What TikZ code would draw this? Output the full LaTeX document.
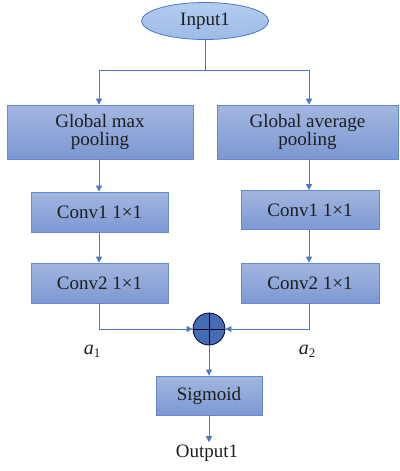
\documentclass[tikz,border=0pt]{standalone}
\usepackage{fontspec}
\setmainfont{Liberation Serif}
\usetikzlibrary{arrows.meta,shapes.geometric,calc}
\definecolor{lineblue}{HTML}{4A78C6}
\definecolor{boxtop}{HTML}{A3B6E0}
\definecolor{boxbot}{HTML}{7C98D3}
\definecolor{boxedge}{HTML}{6688CC}
\definecolor{elltop}{HTML}{B4CCEE}
\definecolor{ellbot}{HTML}{9DBBE8}
\definecolor{txt}{HTML}{1E1E1E}
\tikzset{
  blk/.style={rectangle, draw=boxedge, line width=0.8pt, top color=boxtop, bottom color=boxbot,
    text=txt, align=center, inner sep=0pt, font=\fontsize{19}{18}\selectfont},
  conn/.style={draw=lineblue, line width=0.9pt},
  arr/.style={conn, -{Triangle[width=6pt,length=6pt]}},
}
\begin{document}
\begin{tikzpicture}[x=1pt,y=-1pt]
\useasboundingbox (0,0) rectangle (399,471);
\node[ellipse, draw=lineblue, line width=0.8pt, top color=elltop, bottom color=ellbot,
  minimum width=127pt, minimum height=37pt, inner sep=0pt, text=txt,
  font=\fontsize{19}{18}\selectfont] (in) at (205,21) {Input1};
\node[blk, minimum width=186pt, minimum height=54pt] (gmp) at (100,132) {Global max\\pooling};
\node[blk, minimum width=181pt, minimum height=54pt] (gap) at (307.5,132) {Global average\\pooling};
\node[blk, minimum width=137pt, minimum height=40pt] (c1l) at (99.5,212) {Conv1 1\texttimes1};
\node[blk, minimum width=138pt, minimum height=39pt] (c1r) at (310,210) {Conv1 1\texttimes1};
\node[blk, minimum width=137pt, minimum height=40pt] (c2l) at (99.5,283) {Conv2 1\texttimes1};
\node[blk, minimum width=138pt, minimum height=40pt] (c2r) at (310,283) {Conv2 1\texttimes1};
\node[circle, draw=black!80!blue, line width=0.8pt, fill=lineblue!90!black, minimum size=32pt, inner sep=0pt] (sum) at (209,329) {};
\draw[black!85!blue, line width=0.8pt] (sum.north) -- (sum.south) (sum.west) -- (sum.east);
\node[blk, minimum width=106pt, minimum height=39pt] (sig) at (209,395.5) {Sigmoid};
\node[text=txt, font=\fontsize{19}{18}\selectfont, inner sep=0pt, anchor=base] (out) at (207,457) {Output1};
\node[text=txt, inner sep=0pt, anchor=base] (a1) at (92,354) {\fontsize{20}{20}\selectfont\textit{a}\raisebox{-0.35ex}{\fontsize{13}{13}\selectfont 1}};
\node[text=txt, inner sep=0pt, anchor=base] (a2) at (307,354) {\fontsize{20}{20}\selectfont\textit{a}\raisebox{-0.35ex}{\fontsize{13}{13}\selectfont 2}};
\coordinate (j) at (205,70);
\coordinate (jl) at (99,70);
\coordinate (jr) at (309,70);
\draw[conn] (in.south) -- (j);
\draw[conn] (jl) -- (jr);
\draw[arr] (jl) -- (jl |- gmp.north);
\draw[arr] (jr) -- (jr |- gap.north);
\draw[arr] (jl |- gmp.south) -- (jl |- c1l.north);
\draw[arr] (jr |- gap.south) -- (jr |- c1r.north);
\draw[arr] (jl |- c1l.south) -- (jl |- c2l.north);
\draw[arr] (jr |- c1r.south) -- (jr |- c2r.north);
\draw[arr] (jl |- c2l.south) |- (sum.west);
\draw[arr] (jr |- c2r.south) |- (sum.east);
\draw[arr] (sum.south) -- (sig.north);
\draw[arr] (sig.south) -- ($(out.north)+(2,-2)$);
\end{tikzpicture}
\end{document}
